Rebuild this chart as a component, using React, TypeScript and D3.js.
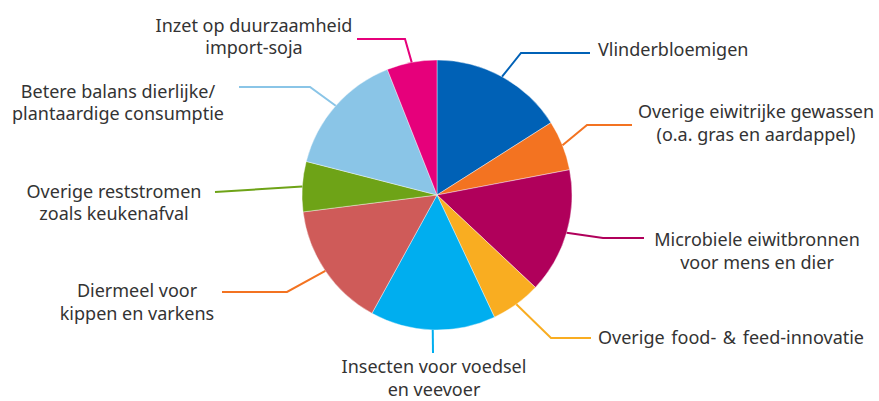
import React from "react";
import * as d3 from "d3";

const categories = [
  "Vlinderbloemigen",
  "Overige eiwitrijke gewassen (o.a. gras en aardappel)",
  "Microbiele eiwitbronnen voor mens en dier",
  "Overige food- & feed-innovatie",
  "Insecten voor voedsel en veevoer",
  "Diermeel voor kippen en varkens",
  "Overige reststromen zoals keukenafval",
  "Betere balans dierlijke/ plantaardige consumptie",
  "Inzet op duurzaamheid import-soja",
];
const values = [16, 6, 15, 6, 15, 15, 6, 15, 6];
const labelLines = [
  ["Vlinderbloemigen"],
  ["Overige eiwitrijke gewassen", "(o.a. gras en aardappel)"],
  ["Microbiele eiwitbronnen", "voor mens en dier"],
  ["Overige food- & feed-innovatie"],
  ["Insecten voor voedsel", "en veevoer"],
  ["Diermeel voor", "kippen en varkens"],
  ["Overige reststromen", "zoals keukenafval"],
  ["Betere balans dierlijke/", "plantaardige consumptie"],
  ["Inzet op duurzaamheid", "import-soja"],
];

const sliceColors = [
  "#0061b6", "#f37321", "#b0005b", "#f9ad21", "#00aeef",
  "#cf5b59", "#6ea317", "#8ac5e7", "#e6007b",
];
const lineColors = [
  "#0061b6", "#f37321", "#b0005b", "#f9ad21", "#00aeef",
  "#f37321", "#6ea317", "#8ac5e7", "#e6007b",
];

// layout: elbow point (null = straight), end x of leader, text anchor, first baseline
const layout = [
  { elbow: [521, 53], ey: 53, endX: 590, anchor: "start", tx: 598, ty: 56, ws: 0 },
  { elbow: [587, 125], ey: 125, endX: 632, anchor: "middle", tx: 756, ty: 118, ws: 0 },
  { elbow: [603, 238], ey: 238, endX: 644, anchor: "middle", tx: 757, ty: 246, ws: 0 },
  { elbow: [551, 338], ey: 338, endX: 591, anchor: "start", tx: 598, ty: 343.5, ws: 2 },
  { elbow: [433, 353], ey: 353, endX: 433, anchor: "middle", tx: 434, ty: 373, ws: 0 },
  { elbow: [287, 292], ey: 292, endX: 222, anchor: "middle", tx: 137, ty: 297, ws: 0 },
  { elbow: null, ey: 192, endX: 215, anchor: "middle", tx: 114, ty: 197.5, ws: 0 },
  { elbow: [310, 87], ey: 87, endX: 239, anchor: "middle", tx: 118, ty: 97.5, ws: 0 },
  { elbow: [405, 39], ey: 39, endX: 357, anchor: "middle", tx: 254, ty: 31.5, ws: 0 },
];

const W = 879;
const H = 401;
const cx = 437;
const cy = 195;
const R = 135;
const lineH = 22.5;

export default function App() {
  const pie = d3.pie<number>().sort(null).value((d) => d);
  const arcs = pie(values);
  const arc = d3.arc<d3.PieArcDatum<number>>().innerRadius(0).outerRadius(R);

  return (
    <svg
      width={W}
      height={H}
      style={{ position: "absolute", left: 0, top: 0, background: "#fff" }}
      fontFamily="'Noto Sans', 'Open Sans', sans-serif"
    >
      <g transform={`translate(${cx},${cy})`}>
        {arcs.map((a, i) => (
          <path key={i} d={arc(a) || ""} fill={sliceColors[i]} stroke="#fff" strokeWidth={0.4} />
        ))}
      </g>
      {arcs.map((a, i) => {
        const mid = (a.startAngle + a.endAngle) / 2;
        const sx = cx + R * Math.sin(mid);
        const sy = cy - R * Math.cos(mid);
        const L = layout[i];
        const pts: [number, number][] = [[sx, sy]];
        if (L.elbow) pts.push([L.elbow[0], L.elbow[1]]);
        pts.push([L.endX, L.ey]);
        return (
          <path
            key={"l" + i}
            d={d3.line()(pts) || ""}
            fill="none"
            stroke={lineColors[i]}
            strokeWidth={2}
          />
        );
      })}
      {labelLines.map((lines, i) => {
        const L = layout[i];
        return (
          <text
            key={"t" + i}
            x={L.tx}
            y={L.ty}
            textAnchor={L.anchor as any}
            fontSize={18}
            fill="#333"
            wordSpacing={L.ws}
          >
            {lines.map((ln, j) => (
              <tspan key={j} x={L.tx} y={L.ty + j * lineH}>
                {ln}
              </tspan>
            ))}
          </text>
        );
      })}
    </svg>
  );
}
